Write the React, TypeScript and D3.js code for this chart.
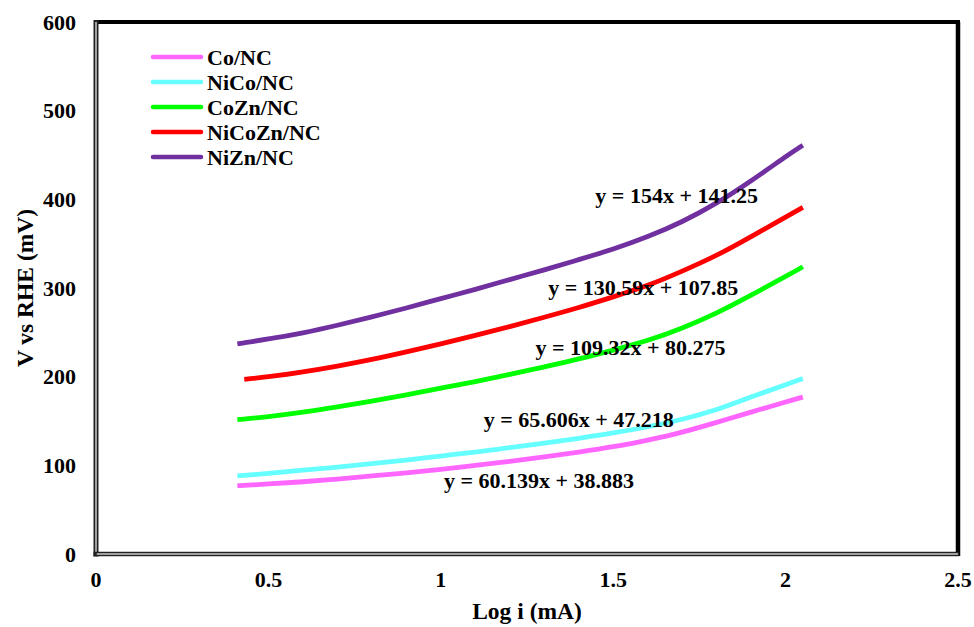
import React from "react";
import * as d3 from "d3";

const logI = [0.41, 0.43, 0.5, 0.6, 0.7, 0.8, 0.9, 1.0, 1.1, 1.2, 1.3, 1.4, 1.5, 1.6, 1.7, 1.8, 1.9, 2.0, 2.05];

const coNC = [77, 77.4, 79, 81.5, 84.5, 88, 91.5, 95.5, 100, 104.5, 109.5, 115, 121, 128.5, 137.5, 148.5, 160, 171.5, 177];
const niCoNC = [88, 88.6, 91, 94.5, 98, 102, 106, 110.5, 115, 120, 125, 130.5, 136.5, 143.5, 152, 163, 177, 191, 198];
const coZnNC = [151.5, 152.2, 155, 160, 166, 172.5, 179.5, 187, 194.5, 202.5, 211, 220, 230, 241, 255, 272, 292, 313, 324];
const niCoZnNC = [null, 197, 200, 205.5, 212, 219.5, 228, 237, 246.5, 256.5, 267, 278, 290, 303, 319, 337, 358, 380, 391];
const niZnNC = [237, 238.2, 242.5, 249.5, 258, 267.5, 277.5, 288, 298.5, 309.5, 320.5, 332, 344, 358, 375, 396, 421, 448, 461];

const seriesNames = ["Co/NC", "NiCo/NC", "CoZn/NC", "NiCoZn/NC", "NiZn/NC"];
const seriesColors = ["#ff66ff", "#66ffff", "#00ff00", "#ff0000", "#7030a0"];
const seriesValues = [coNC, niCoNC, coZnNC, niCoZnNC, niZnNC];

const xTicks = [0, 0.5, 1, 1.5, 2, 2.5];
const xTickLabels = ["0", "0.5", "1", "1.5", "2", "2.5"];
const yTicks = [0, 100, 200, 300, 400, 500, 600];

const equations = [
  "y = 60.139x + 38.883",
  "y = 65.606x + 47.218",
  "y = 109.32x + 80.275",
  "y = 130.59x + 107.85",
  "y = 154x + 141.25",
];
// anchor (centre of text, baseline) in data units
const eqX = [1.285, 1.4, 1.55, 1.587, 1.684];
const eqY = [74, 143, 225, 292, 396];

const W = 974;
const H = 627;
const FONT = "'Liberation Serif', 'Times New Roman', Times, serif";

export default function App() {
  const x = d3.scaleLinear().domain([0, 2.5]).range([96, 958]);
  const y = d3.scaleLinear().domain([0, 600]).range([554, 22]);

  const line = d3
    .line<[number, number | null]>()
    .defined((d) => d[1] != null)
    .x((d) => x(d[0]))
    .y((d) => y(d[1] as number))
    .curve(d3.curveNatural);

  const x0 = x(0), x1 = x(2.5), y0 = y(0), y1 = y(600);

  return (
    <svg
      width={W}
      height={H}
      style={{ position: "fixed", left: 0, top: 0, background: "#fff" }}
      fontFamily={FONT}
      fontWeight="bold"
    >
      <rect x={0} y={0} width={W} height={H} fill="#fff" />
      {/* frame: top/right solid */}
      <line x1={x0} x2={x1 + 2} y1={y1} y2={y1} stroke="#000" strokeWidth={4} />
      <line x1={x1} x2={x1} y1={y1} y2={y0 + 2} stroke="#000" strokeWidth={4.5} />
      {/* left/bottom double lines */}
      <line x1={x0} x2={x0} y1={y1 - 2} y2={y0 + 2.5} stroke="#222" strokeWidth={5} />
      <line x1={x0} x2={x0} y1={y1} y2={y0 + 1} stroke="#c8c8c8" strokeWidth={1.5} />
      <line x1={x0 - 2.5} x2={x1 + 1} y1={y0} y2={y0} stroke="#222" strokeWidth={4.5} />
      <line x1={x0 + 0.75} x2={x1} y1={y0} y2={y0} stroke="#c8c8c8" strokeWidth={1.3} />

      {/* y tick labels */}
      {yTicks.map((t) => (
        <text key={"y" + t} x={76} y={y(t) + 7.5} textAnchor="end" fontSize={22}>
          {t}
        </text>
      ))}
      {/* x tick labels */}
      {xTicks.map((t, i) => (
        <text key={"x" + t} x={x(t)} y={587} textAnchor="middle" fontSize={22}>
          {xTickLabels[i]}
        </text>
      ))}

      {/* axis titles */}
      <text x={(x0 + x1) / 2} y={619} textAnchor="middle" fontSize={23.5}>
        Log i (mA)
      </text>
      <text
        transform={`translate(33, ${(y0 + y1) / 2}) rotate(-90)`}
        textAnchor="middle"
        fontSize={23.5}
      >
        V vs RHE (mV)
      </text>

      {/* series */}
      {seriesValues.map((vals, si) => (
        <path
          key={seriesNames[si]}
          d={line(logI.map((lx, i) => [lx, vals[i]]) as [number, number | null][]) || ""}
          fill="none"
          stroke={seriesColors[si]}
          strokeWidth={4.8}
          strokeLinecap="butt"
          strokeLinejoin="round"
        />
      ))}

      {/* equations */}
      {equations.map((e, i) => (
        <text key={e} x={x(eqX[i])} y={y(eqY[i])} textAnchor="middle" fontSize={22}>
          {e}
        </text>
      ))}

      {/* legend */}
      {seriesNames.map((n, i) => {
        const ly = 57 + i * 25;
        return (
          <g key={"lg" + n}>
            <line x1={153} x2={201} y1={ly} y2={ly} stroke={seriesColors[i]} strokeWidth={4.5} strokeLinecap="round" />
            <text x={207} y={ly + 7.5} fontSize={22}>
              {n}
            </text>
          </g>
        );
      })}
    </svg>
  );
}
